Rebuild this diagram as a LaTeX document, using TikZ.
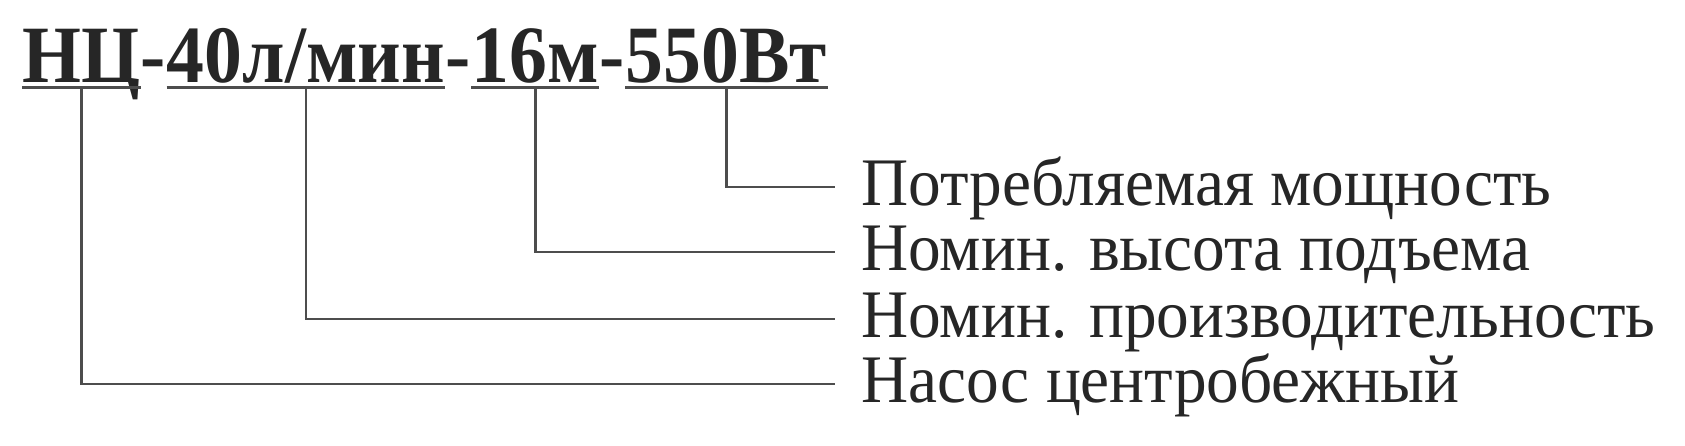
\documentclass[tikz,border=0pt]{standalone}
\usepackage{fontspec}
\setmainfont{Liberation Serif}
\newfontfamily\markfont[FakeStretch=0.93]{Liberation Serif}
\newfontfamily\partfont[FakeStretch=0.96]{Liberation Serif}
\usetikzlibrary{positioning}
\definecolor{inkgray}{HTML}{262626}
\definecolor{linegray}{HTML}{4D4D4D}
\tikzset{
    seg/.style={inner xsep=0pt, inner ysep=2.5pt, text height=27.5pt, text depth=0pt,
        text=inkgray, font=\markfont\bfseries\fontsize{40.7}{48}\selectfont},
    part/.style={anchor=base west, inner xsep=13pt, inner ysep=0pt, text height=22.5pt,
        text depth=4.5pt, text=inkgray, font=\partfont\fontsize{34}{40}\selectfont},
    lead/.style={draw=linegray, line width=1.3pt},
}
\begin{document}
\begin{tikzpicture}[x=0.5pt, y=-0.5pt]
    \useasboundingbox (0,0) rectangle (1685,445);
    % model code
    \node[seg, anchor=base west] (nc) at (22,82) {НЦ};
    \node[seg, right=0pt of nc] (d1) {-};
    \node[seg, right=0pt of d1] (flow) {40л/мин};
    \node[seg, right=0pt of flow] (d2) {-};
    \node[seg, right=0pt of d2] (head) {16м};
    \node[seg, right=0pt of head] (d3) {-};
    \node[seg, right=0pt of d3] (power) {550Вт};
    \foreach \s in {nc,flow,head,power}
        \draw[lead] (\s.south west) -- (\s.south east);
    % meanings
    \node[part] (pw) at (835,205) {Потребляемая мощность};
    \node[part] (hd) at (835,270) {Номин. высота подъема};
    \node[part] (fl) at (835,337) {Номин. производительность};
    \node[part] (pm) at (835,402) {Насос центробежный};
    \draw[lead] (power.south) |- (pw.west);
    \draw[lead] (head.south) |- (hd.west);
    \draw[lead] (flow.south) |- (fl.west);
    \draw[lead] (nc.south) |- (pm.west);
\end{tikzpicture}
\end{document}
